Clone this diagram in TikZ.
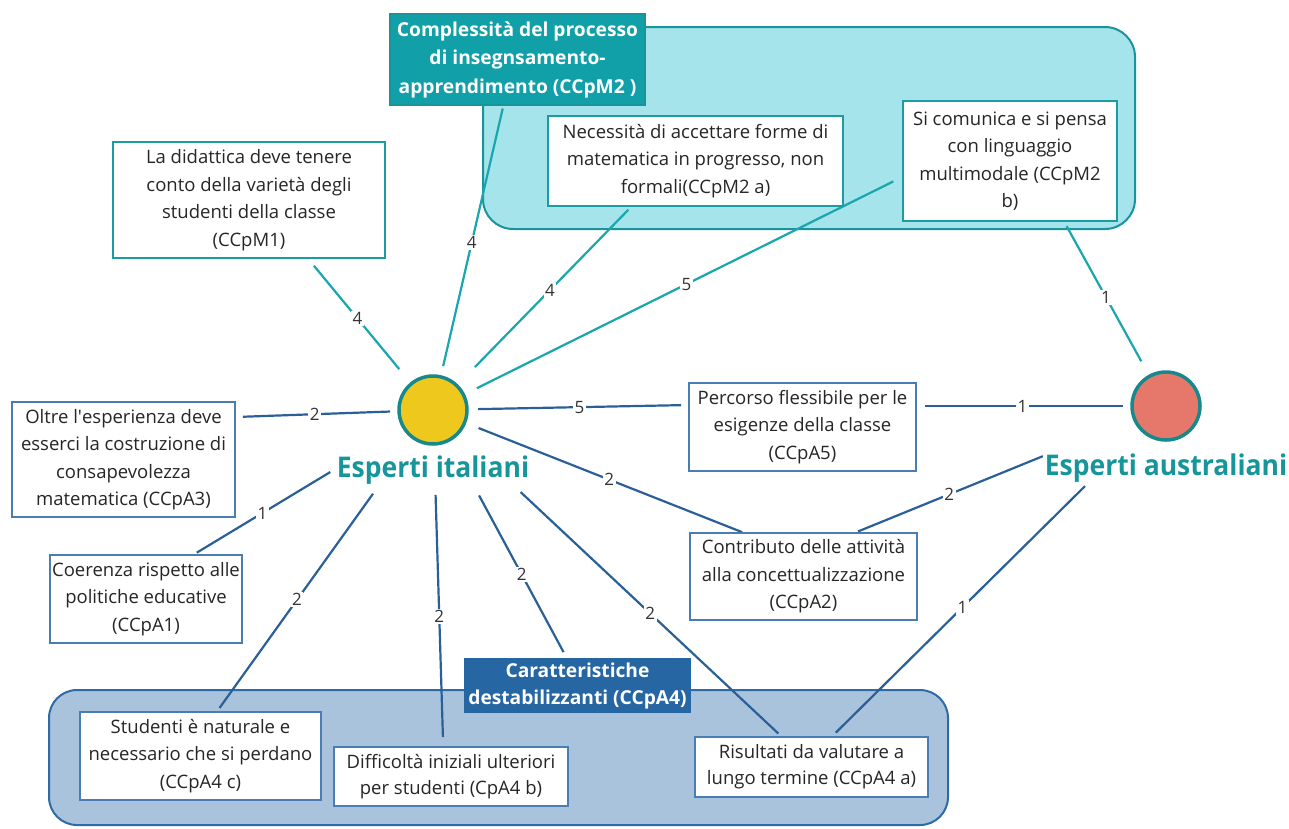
\documentclass[tikz,border=0pt]{standalone}
\usepackage{fontspec}
\setmainfont{Open Sans}[Ligatures=TeXOff]
\newfontfamily\whofont{Open Sans}[Ligatures=TeXOff, FakeStretch=0.93]
\usetikzlibrary{calc}
\pgfdeclarelayer{groups}
\pgfdeclarelayer{edges}
\pgfsetlayers{groups,edges,main}

\definecolor{tealline}{HTML}{1AA6AE}
\definecolor{tealbox}{HTML}{1B9CA3}
\definecolor{tealtext}{HTML}{16959A}
\definecolor{blueline}{HTML}{2A5F98}
\definecolor{bluebox}{HTML}{4A7CB5}
\definecolor{grpT}{HTML}{A4E4EA}
\definecolor{grpTb}{HTML}{1A949C}
\definecolor{grpB}{HTML}{AAC3DC}
\definecolor{grpBb}{HTML}{2E6AA5}
\definecolor{hdrT}{HTML}{11A0A8}
\definecolor{hdrB}{HTML}{2566A3}
\definecolor{sun}{HTML}{EEC81D}
\definecolor{salmon}{HTML}{E5786A}
\definecolor{ring}{HTML}{17898B}

\tikzset{
  box/.style={draw, fill=white, line width=1.6pt, align=center, inner sep=2pt,
    font=\fontsize{18.5}{27.5}\selectfont, text=black!85},
  tbox/.style={box, draw=tealbox},
  bbox/.style={box, draw=bluebox},
  hdr/.style={align=center, text=white, line width=1.2pt, inner sep=0pt,
    font=\bfseries\fontsize{19.2}{28.5}\selectfont},
  circ/.style={circle, line width=3.5pt, draw=ring, minimum size=68pt, inner sep=0pt},
  who/.style={text=tealtext, font=\whofont\bfseries\fontsize{28.5}{32}\selectfont},
  tl/.style={draw=tealline, line width=2.2pt},
  bl/.style={draw=blueline, line width=2.2pt},
  num/.style={fill=white, inner sep=1.5pt, font=\fontsize{17}{17}\selectfont, text=black!80}
}

\begin{document}
\begin{tikzpicture}[x=1pt,y=-1pt]
\useasboundingbox (0,0) rectangle (1289,828);

% experts
\node[circ, fill=sun] (it) at (433,410) {};
\node[who] (itl) at (433,470) {Esperti italiani};
\node[circ, fill=salmon] (au) at (1166,406) {};
\node[who] (aul) at (1166,468) {Esperti australiani};

% upper group
\node[hdr, fill=hdrT, draw=grpTb, minimum width=255pt, minimum height=91pt] (cpm2) at (517.5,59.5)
  {Complessità del processo\\di insegnsamento-\\apprendimento (CCpM2 )};
\node[tbox, minimum width=295pt, minimum height=90pt] (cpm2a) at (695.5,161)
  {Necessità di accettare forme di\\matematica in progresso, non\\formali(CCpM2 a)};
\node[tbox, minimum width=214pt, minimum height=120pt] (cpm2b) at (1010,161)
  {Si comunica e si pensa\\con linguaggio\\multimodale (CCpM2\\b)};
\node[tbox, minimum width=272pt, minimum height=116pt] (cpm1) at (249,200)
  {La didattica deve tenere\\conto della varietà degli\\studenti della classe\\(CCpM1)};

% middle boxes
\node[bbox, minimum width=223pt, minimum height=115pt] (ca3) at (123.5,459.5)
  {Oltre l\textquotesingle esperienza deve\\esserci la costruzione di\\consapevolezza\\matematica (CCpA3)};
\node[bbox, minimum width=192pt, minimum height=88pt] (ca1) at (146,599)
  {Coerenza rispetto alle\\politiche educative\\(CCpA1)};
\node[bbox, minimum width=227pt, minimum height=88pt] (ca5) at (802.5,427)
  {Percorso flessibile per le\\esigenze della classe\\(CCpA5)};
\node[bbox, minimum width=227pt, minimum height=87pt] (ca2) at (803.5,576.5)
  {Contributo delle attività\\alla concettualizzazione\\(CCpA2)};

% lower group
\node[hdr, fill=hdrB, minimum width=227pt, minimum height=55pt, font=\bfseries\fontsize{19.2}{27}\selectfont] (ca4) at (577.5,685.5)
  {Caratteristiche\\destabilizzanti (CCpA4)};
\node[bbox, minimum width=241pt, minimum height=88pt] (ca4c) at (200.5,756)
  {Studenti è naturale e\\necessario che si perdano\\(CCpA4 c)};
\node[bbox, minimum width=234pt, minimum height=59pt, font=\fontsize{18.5}{26}\selectfont] (ca4b) at (451,776.5)
  {Difficoltà iniziali ulteriori\\per studenti (CpA4 b)};
\node[bbox, minimum width=233pt, minimum height=60pt, font=\fontsize{18.5}{26}\selectfont] (ca4a) at (811.5,767)
  {Risultati da valutare a\\lungo termine (CCpA4 a)};

\begin{pgfonlayer}{groups}
  \draw[fill=grpT, draw=grpTb, line width=2pt, rounded corners=30pt] (483,27) rectangle (1135,229);
  \draw[fill=grpB, draw=grpBb, line width=2pt, rounded corners=28pt] (49,690) rectangle (948,825);
\end{pgfonlayer}

\begin{pgfonlayer}{edges}
  % Esperti italiani
  \draw[tl, shorten <=45pt, shorten >=3pt] (it.center) -- node[num, pos=0.55]{4} ([shift={(114,0)}]cpm2.south west);
  \draw[tl, shorten <=60pt, shorten >=4pt] (it.center) -- node[num, pos=0.59]{4} ([shift={(84,0)}]cpm2a.south west);
  \draw[tl, shorten <=49pt, shorten >=10pt] (it.center) -- node[num, pos=0.54]{5} ([shift={(0,16)}]cpm2b.west);
  \draw[tl, shorten <=53pt, shorten >=9pt] (it.center) -- node[num, pos=0.605]{4} ([shift={(196,0)}]cpm1.south west);
  \draw[bl, shorten <=43pt, shorten >=7pt] (it.center) -- node[num, pos=0.60]{2} ([shift={(0,-42.5)}]ca3.east);
  \draw[bl, shorten <=45pt, shorten >=7pt] (it.center) -- node[num, pos=0.574]{5} ([shift={(0,-22)}]ca5.west);
  \draw[bl, shorten <=49pt, shorten >=0pt] (it.center) -- node[num, pos=0.57]{2} ([shift={(53,0)}]ca2.north west);
  \draw[bl, shorten <=120pt, shorten >=3pt] (it.center) -- node[num, pos=0.714]{1} ([shift={(145,0)}]ca1.north west);
  \draw[bl, shorten <=103pt, shorten >=4pt] (it.center) -- node[num, pos=0.63]{2} ([shift={(138,0)}]ca4c.north west);
  \draw[bl, shorten <=85pt, shorten >=9pt] (it.center) -- node[num, pos=0.614]{2} ([shift={(110,0)}]ca4b.north west);
  \draw[bl, shorten <=97pt, shorten >=6pt] (it.center) -- node[num, pos=0.665]{2} ([shift={(103,0)}]ca4.north west);
  \draw[bl, shorten <=120pt, shorten >=4pt] (it.center) -- node[num, pos=0.624]{2} ([shift={(87,0)}]ca4a.north west);
  % Esperti australiani
  \draw[tl, shorten <=51pt, shorten >=5pt] (au.center) -- node[num, pos=0.59]{1} ([shift={(162,0)}]cpm2b.south west);
  \draw[bl, shorten <=43pt, shorten >=8pt] (au.center) -- node[num, pos=0.576]{1} ([shift={(0,-21)}]ca5.east);
  \draw[bl, shorten <=133pt, shorten >=2pt] (au.center) -- node[num, pos=0.70]{2} ([shift={(167,0)}]ca2.north west);
  \draw[bl, shorten <=114pt, shorten >=5pt] (au.center) -- node[num, pos=0.61]{1} ([shift={(138,0)}]ca4a.north west);
\end{pgfonlayer}
\end{tikzpicture}
\end{document}
